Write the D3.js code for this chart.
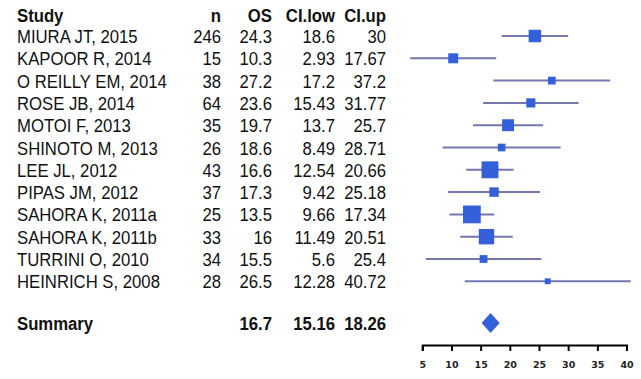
<!DOCTYPE html>
<html>
<head>
<meta charset="utf-8">
<script src="https://cdn.jsdelivr.net/npm/d3@7"></script>
<style>
  body { margin: 0; background: #fff; }
  text { font-family: "Liberation Sans", Arial, sans-serif; fill: #111; }
  .head, .summary { font-weight: bold; }
  .tick text { font-family: "DejaVu Sans", sans-serif; font-size: 9.5px; font-weight: bold; fill: #222; }
</style>
</head>
<body>
<script>
const studies = ["MIURA JT, 2015", "KAPOOR R, 2014", "O REILLY EM, 2014", "ROSE JB, 2014",
  "MOTOI F, 2013", "SHINOTO M, 2013", "LEE JL, 2012", "PIPAS JM, 2012",
  "SAHORA K, 2011a", "SAHORA K, 2011b", "TURRINI O, 2010", "HEINRICH S, 2008"];
const nVals = [246, 15, 38, 64, 35, 26, 43, 37, 25, 33, 34, 28];
const osVals = [24.3, 10.3, 27.2, 23.6, 19.7, 18.6, 16.6, 17.3, 13.5, 16, 15.5, 26.5];
const ciLow = [18.6, 2.93, 17.2, 15.43, 13.7, 8.49, 12.54, 9.42, 9.66, 11.49, 5.6, 12.28];
const ciUp = [30, 17.67, 37.2, 31.77, 25.7, 28.71, 20.66, 25.18, 17.34, 20.51, 25.4, 40.72];
const summary = {label: "Summary", os: 16.7, low: 15.16, up: 18.26};
const headers = ["Study", "n", "OS", "CI.low", "CI.up"];
const xTicks = [5, 10, 15, 20, 25, 30, 35, 40];

const width = 641, height = 379;
const squeeze = 0.88;
const fontSize = 19;

const rows = studies.map((s, i) => ({
  study: s, n: nVals[i], os: osVals[i], low: ciLow[i], up: ciUp[i]
}));

const svg = d3.select("body").append("svg")
  .attr("width", width)
  .attr("height", height);

const x = d3.scaleLinear().domain([5, 40]).range([422.3, 626.5]);
const y = d3.scaleLinear().domain([0, rows.length - 1]).range([36, 36 + 22.3 * (rows.length - 1)]);
const summaryY = 323;
const headY = 15;

// box size from inverse-variance weight (sqrt -> 1/CI width)
const inv = rows.map(d => 1 / (d.up - d.low));
const boxSize = d3.scaleLinear().domain([0, d3.max(inv)]).range([1.5, 1.5 + 125 * d3.max(inv)]);

// text columns: [x, anchor]
const cols = [[17, "start"], [221, "end"], [272, "end"], [335, "end"], [386, "end"]];

function putText(g, cls, cx, cy, anchor, txt) {
  g.append("text")
    .attr("class", cls)
    .attr("transform", "translate(" + cx + "," + (cy + 7) + ") scale(" + squeeze + ",1)")
    .attr("text-anchor", anchor)
    .style("font-size", fontSize + "px")
    .text(txt);
}

const tbl = svg.append("g");
headers.forEach((h, j) => putText(tbl, "head", cols[j][0], headY, cols[j][1], h));

rows.forEach((d, i) => {
  const vals = [d.study, d.n, d.os, d.low, d.up];
  vals.forEach((v, j) => putText(tbl, "cell", cols[j][0], y(i), cols[j][1], v));
});

putText(tbl, "summary", cols[0][0], summaryY, "start", summary.label);
[summary.os, summary.low, summary.up].forEach((v, j) =>
  putText(tbl, "summary", cols[j + 2][0], summaryY, "end", v));

// CI lines
svg.append("g").selectAll("line")
  .data(rows)
  .enter()
  .append("line")
  .attr("x1", d => x(d.low))
  .attr("x2", d => x(d.up))
  .attr("y1", (d, i) => y(i))
  .attr("y2", (d, i) => y(i))
  .style("stroke", "#7476b0")
  .style("stroke-width", 2);

// boxes
svg.append("g").selectAll("rect")
  .data(rows)
  .enter()
  .append("rect")
  .attr("x", (d, i) => x(d.os) - boxSize(inv[i]) / 2)
  .attr("y", (d, i) => y(i) - boxSize(inv[i]) / 2)
  .attr("width", (d, i) => boxSize(inv[i]))
  .attr("height", (d, i) => boxSize(inv[i]))
  .style("fill", "#3560dc");

// summary diamond
const dh = 10;
svg.append("path")
  .attr("d", "M" + x(summary.low) + "," + summaryY +
    "L" + x(summary.os) + "," + (summaryY - dh) +
    "L" + x(summary.up) + "," + summaryY +
    "L" + x(summary.os) + "," + (summaryY + dh) + "Z")
  .style("fill", "#3560dc");

// axis
const xAxis = d3.axisBottom(x).tickValues(xTicks).tickSize(6).tickPadding(10);
svg.append("g")
  .attr("class", "x axis")
  .attr("transform", "translate(0,345)")
  .call(xAxis)
  .call(g => g.select(".domain").attr("stroke-width", 2))
  .call(g => g.selectAll(".tick line").attr("stroke-width", 2));
</script>
</body>
</html>
